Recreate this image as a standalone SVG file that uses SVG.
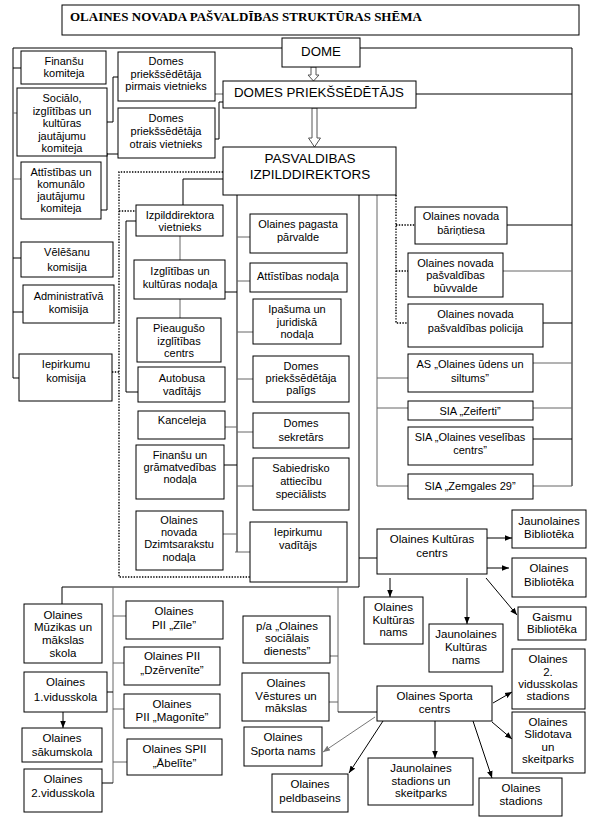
<svg xmlns="http://www.w3.org/2000/svg" width="598" height="830" viewBox="0 0 598 830">
<defs>
<style>
.b{fill:#fff;stroke:#000;stroke-width:1}
.t{font-family:"Liberation Sans",Arial,sans-serif;font-size:11px;text-anchor:middle;fill:#000}
.t2{font-family:"Liberation Sans",Arial,sans-serif;font-size:11.5px;text-anchor:middle;fill:#000}
.big{font-family:"Liberation Sans",Arial,sans-serif;font-size:13.3px;text-anchor:middle;fill:#000}
.ttl{font-family:"Liberation Serif","Times New Roman",serif;font-size:13px;font-weight:bold;fill:#000}
.c{fill:none;stroke:#000;stroke-width:1}
.g{fill:none;stroke:#666;stroke-width:1}
.d{fill:none;stroke:#000;stroke-width:1.4;stroke-dasharray:1.4,1.4}
.ha{fill:#fff;stroke:#555;stroke-width:1}
.a{fill:none;stroke:#000;stroke-width:1;marker-end:url(#ah)}
.ag{fill:none;stroke:#777;stroke-width:1;marker-end:url(#ahg)}
</style>
<marker id="ah" viewBox="0 0 10 10" refX="10" refY="5" markerWidth="7" markerHeight="7" orient="auto" markerUnits="userSpaceOnUse"><path d="M0,1 L10,5 L0,9 z" fill="#000"/></marker>
<marker id="ahg" viewBox="0 0 10 10" refX="10" refY="5" markerWidth="7" markerHeight="7" orient="auto" markerUnits="userSpaceOnUse"><path d="M0,1 L10,5 L0,9 z" fill="#777"/></marker>
</defs>
<rect x="0" y="0" width="598" height="830" fill="#fff"/>

<g id="connectors">
<path class="c" d="M13,48 H282 M360,48 H572 V486"/>
<path class="c" d="M13,48 V378 H19"/>
<path class="c" d="M13,68 H21 M13,258 H21 M13,312 H23"/>
<path class="g" d="M13,113 H17 M13,179 H21"/>
<path class="c" d="M107,122 H113 V77 H118 M107,154 H118 M94,210 H107 V153"/>
<path class="g" d="M215,94 H223"/>
<path class="c" d="M215,139 H219 V102 H223 M416,94 H572"/>
<path class="ha" d="M311,67 H316 V75 H319 L313.5,81 L308,75 H311 Z"/>
<path class="ha" d="M312,108 H317 V138 H320.5 L314.5,147 L308.5,138 H312 Z"/>
<path class="c" d="M223,179 H183 V205"/>
<path class="g" d="M180,236 V260 M180,299 V318"/>
<path class="c" d="M137,221 H126 V392 H138"/>
<path class="c" d="M237,195 V552"/>
<path class="g" d="M237,237 H250 M237,281 H250 M237,332 H253 M237,379 H253 M237,432 H253 M237,486 H253 M235,552 H250 M225,427 H237 M223,534 H237"/>
<path class="c" d="M225,292 H237 M224,465 H237"/>
<path class="c" d="M359,195 V587 H62 V604 M359,558 H377"/>
<path class="g" d="M377,195 V486 H408 M377,378 H408 M377,408 H408"/>
<path class="c" d="M507,225 H572 M543,323 H572"/>
<path class="g" d="M503,271 H572 M533,363 H572 M533,408 H572 M533,486 H572"/>
<path class="c" d="M533,439 H572"/>
<path class="d" d="M223,172 H119 V577 H250 M119,211 H136 M112,372 H119"/>
<path class="d" d="M396,195 V323 H408 M396,225 H415 M396,271 H408"/>
<path class="g" d="M113,587 V783 M113,616 H126 M113,663 H124 M113,709 H124 M113,762 H127"/>
<path class="c" d="M107,692 H113 M102,783 H113"/>
<path class="g" d="M338,587 V712 M330,656 H338 M329,702 H338"/>
<path class="c" d="M338,712 H377"/>
<path class="a" d="M63,712 V728"/>
<path class="a" d="M487,538 H512"/>
<path class="a" d="M487,568 H509"/>
<path class="a" d="M486,578 L517,615"/>
<path class="a" d="M390,578 V597"/>
<path class="a" d="M467,578 V624"/>
<path class="ag" d="M375,717 L323,752"/>
<path class="a" d="M383,721 L349,773"/>
<path class="a" d="M435,721 V758"/>
<path class="a" d="M473,721 L492,778"/>
<path class="a" d="M492,722 L512,739"/>
<path class="a" d="M493,703 L512,692"/>
</g>

<g id="title"><rect class="b" x="62" y="5" width="517" height="30"/><text class="ttl" x="70" y="21">OLAINES NOVADA PAŠVALDĪBAS STRUKTŪRAS SHĒMA</text></g>

<g id="fin"><rect class="b" x="21" y="51" width="85" height="33"/><text class="t"><tspan x="64" y="65">Finanšu</tspan><tspan x="64" y="77">komiteja</tspan></text></g>
<g id="soc"><rect class="b" x="17" y="88" width="90" height="68"/><text class="t"><tspan x="62" y="102">Sociālo,</tspan><tspan x="62" y="114.5">izglītības un</tspan><tspan x="62" y="127">kultūras</tspan><tspan x="62" y="139.5">jautājumu</tspan><tspan x="62" y="152">komiteja</tspan></text></g>
<g id="att"><rect class="b" x="21" y="162" width="80" height="57"/><text class="t"><tspan x="61" y="176">Attīstības un</tspan><tspan x="61" y="188">komunālo</tspan><tspan x="61" y="200">jautājumu</tspan><tspan x="61" y="212">komiteja</tspan></text></g>
<g id="vel"><rect class="b" x="21" y="242" width="92" height="35"/><text class="t"><tspan x="67" y="256">Vēlēšanu</tspan><tspan x="67" y="271">komisija</tspan></text></g>
<g id="adm"><rect class="b" x="23" y="285" width="91" height="38"/><text class="t"><tspan x="68.5" y="300">Administratīvā</tspan><tspan x="68.5" y="313">komisija</tspan></text></g>
<g id="iepk"><rect class="b" x="19" y="354" width="93" height="47"/><text class="t"><tspan x="66" y="368">Iepirkumu</tspan><tspan x="66" y="382">komisija</tspan></text></g>
<g id="v1"><rect class="b" x="118" y="52" width="97" height="49"/><text class="t"><tspan x="166" y="65">Domes</tspan><tspan x="166" y="77.5">priekšsēdētāja</tspan><tspan x="166" y="90">pirmais vietnieks</tspan></text></g>
<g id="v2"><rect class="b" x="118" y="108" width="97" height="50"/><text class="t"><tspan x="166" y="122">Domes</tspan><tspan x="166" y="135">priekšsēdētāja</tspan><tspan x="166" y="148">otrais vietnieks</tspan></text></g>
<g id="dome"><rect class="b" x="282" y="38" width="78" height="29"/><text class="big" x="321" y="56">DOME</text></g>
<g id="dps"><rect class="b" x="223" y="81" width="193" height="27"/><text class="big" x="319" y="97">DOMES PRIEKŠSĒDĒTĀJS</text></g>
<g id="izp"><rect class="b" x="223" y="147" width="173" height="48"/><text class="big" style="font-size:13.5px"><tspan x="310" y="163">PASVALDIBAS</tspan><tspan x="310" y="179">IZPILDDIREKTORS</tspan></text></g>

<g id="izv"><rect class="b" x="136" y="205" width="87" height="31"/><text class="t"><tspan x="180" y="219">Izpilddirektora</tspan><tspan x="180" y="231">vietnieks</tspan></text></g>
<g id="ikn"><rect class="b" x="134" y="260" width="91" height="39"/><text class="t"><tspan x="180" y="275">Izglītības un</tspan><tspan x="180" y="288">kultūras nodaļa</tspan></text></g>
<g id="pic"><rect class="b" x="137" y="318" width="84" height="44"/><text class="t"><tspan x="179" y="332">Pieaugušo</tspan><tspan x="179" y="345">izglītības</tspan><tspan x="179" y="357">centrs</tspan></text></g>
<g id="aut"><rect class="b" x="138" y="367" width="87" height="35"/><text class="t"><tspan x="182" y="382">Autobusa</tspan><tspan x="182" y="395">vadītājs</tspan></text></g>
<g id="kan"><rect class="b" x="138" y="411" width="87" height="28"/><text class="t" x="182" y="424">Kanceleja</text></g>
<g id="fgn"><rect class="b" x="136" y="445" width="88" height="54"/><text class="t"><tspan x="180" y="459">Finanšu un</tspan><tspan x="180" y="471">grāmatvedības</tspan><tspan x="180" y="483">nodaļa</tspan></text></g>
<g id="dzn"><rect class="b" x="136" y="511" width="87" height="59"/><text class="t"><tspan x="179" y="524">Olaines</tspan><tspan x="179" y="536">novada</tspan><tspan x="179" y="548">Dzimtsarakstu</tspan><tspan x="179" y="561">nodaļa</tspan></text></g>

<g id="opp"><rect class="b" x="250" y="214" width="97" height="39"/><text class="t"><tspan x="298" y="228">Olaines pagasta</tspan><tspan x="298" y="241">pārvalde</tspan></text></g>
<g id="atn"><rect class="b" x="250" y="263" width="97" height="29"/><text class="t" x="298" y="280">Attīstības nodaļa</text></g>
<g id="ipn"><rect class="b" x="253" y="299" width="88" height="45"/><text class="t"><tspan x="297" y="313">Ipašuma un</tspan><tspan x="297" y="326">juridiskā</tspan><tspan x="297" y="338">nodaļa</tspan></text></g>
<g id="dpp"><rect class="b" x="253" y="356" width="96" height="46"/><text class="t"><tspan x="301" y="370">Domes</tspan><tspan x="301" y="382">priekšsēdētāja</tspan><tspan x="301" y="394">palīgs</tspan></text></g>
<g id="dsk"><rect class="b" x="253" y="413" width="96" height="35"/><text class="t"><tspan x="301" y="427">Domes</tspan><tspan x="301" y="441">sekretārs</tspan></text></g>
<g id="sas"><rect class="b" x="253" y="458" width="96" height="52"/><text class="t"><tspan x="301" y="472">Sabiedrisko</tspan><tspan x="301" y="485">attiecību</tspan><tspan x="301" y="498">speciālists</tspan></text></g>
<g id="ipv"><rect class="b" x="250" y="522" width="97" height="60"/><text class="t"><tspan x="298" y="536">Iepirkumu</tspan><tspan x="298" y="549">vadītājs</tspan></text></g>

<g id="bar"><rect class="b" x="415" y="207" width="92" height="37"/><text class="t"><tspan x="461" y="220">Olaines novada</tspan><tspan x="461" y="234">bāriņtiesa</tspan></text></g>
<g id="buv"><rect class="b" x="408" y="253" width="95" height="44"/><text class="t"><tspan x="455.5" y="267">Olaines novada</tspan><tspan x="455.5" y="279">pašvaldības</tspan><tspan x="455.5" y="292">būvvalde</tspan></text></g>
<g id="pol"><rect class="b" x="408" y="304" width="135" height="43"/><text class="t"><tspan x="475.5" y="318">Olaines novada</tspan><tspan x="475.5" y="332">pašvaldības policija</tspan></text></g>
<g id="ous"><rect class="b" x="408" y="354" width="125" height="38"/><text class="t"><tspan x="470" y="368">AS „Olaines ūdens un</tspan><tspan x="470" y="382">siltums”</tspan></text></g>
<g id="zei"><rect class="b" x="408" y="401" width="125" height="19"/><text class="t" x="470" y="415">SIA „Zeiferti”</text></g>
<g id="ovc"><rect class="b" x="408" y="427" width="125" height="38"/><text class="t"><tspan x="470" y="441">SIA „Olaines veselības</tspan><tspan x="470" y="454">centrs”</tspan></text></g>
<g id="zem"><rect class="b" x="408" y="474" width="125" height="25"/><text class="t" x="470" y="490">SIA „Zemgales 29”</text></g>

<g id="okc"><rect class="b" x="377" y="529" width="110" height="45"/><text class="t2"><tspan x="432" y="543">Olaines Kultūras</tspan><tspan x="432" y="557">centrs</tspan></text></g>
<g id="jbib"><rect class="b" x="512" y="510" width="74" height="38"/><text class="t2"><tspan x="549" y="525">Jaunolaines</tspan><tspan x="549" y="538">Bibliotēka</tspan></text></g>
<g id="obib"><rect class="b" x="512" y="558" width="74" height="39"/><text class="t2"><tspan x="549" y="572">Olaines</tspan><tspan x="549" y="586">Bibliotēka</tspan></text></g>
<g id="gbib"><rect class="b" x="518" y="607" width="68" height="33"/><text class="t2"><tspan x="552" y="621">Gaismu</tspan><tspan x="552" y="633">Bibliotēka</tspan></text></g>
<g id="okn"><rect class="b" x="364" y="597" width="59" height="47"/><text class="t2"><tspan x="393.5" y="611">Olaines</tspan><tspan x="393.5" y="623.5">Kultūras</tspan><tspan x="393.5" y="636">nams</tspan></text></g>
<g id="jkn"><rect class="b" x="429" y="624" width="74" height="48"/><text class="t2"><tspan x="466" y="638">Jaunolaines</tspan><tspan x="466" y="651">Kultūras</tspan><tspan x="466" y="664">nams</tspan></text></g>

<g id="osc"><rect class="b" x="377" y="686" width="115" height="35"/><text class="t2"><tspan x="434.5" y="700">Olaines Sporta</tspan><tspan x="434.5" y="713">centrs</tspan></text></g>
<g id="v2s"><rect class="b" x="512" y="649" width="73" height="60"/><text class="t2"><tspan x="548" y="663">Olaines</tspan><tspan x="548" y="676">2.</tspan><tspan x="548" y="688">vidusskolas</tspan><tspan x="548" y="700">stadions</tspan></text></g>
<g id="sli"><rect class="b" x="512" y="712" width="73" height="61"/><text class="t2"><tspan x="548" y="726">Olaines</tspan><tspan x="548" y="738">Slidotava</tspan><tspan x="548" y="751">un</tspan><tspan x="548" y="763">skeitparks</tspan></text></g>
<g id="osn"><rect class="b" x="244" y="727" width="78" height="39"/><text class="t2"><tspan x="283" y="741">Olaines</tspan><tspan x="283" y="755">Sporta nams</tspan></text></g>
<g id="opb"><rect class="b" x="272" y="774" width="76" height="38"/><text class="t2"><tspan x="310" y="788">Olaines</tspan><tspan x="310" y="802">peldbaseins</tspan></text></g>
<g id="jss"><rect class="b" x="368" y="758" width="105" height="47"/><text class="t2"><tspan x="421" y="772">Jaunolaines</tspan><tspan x="421" y="785">stadions un</tspan><tspan x="421" y="797">skeitparks</tspan></text></g>
<g id="ost"><rect class="b" x="479" y="778" width="83" height="38"/><text class="t2"><tspan x="521" y="792">Olaines</tspan><tspan x="521" y="805">stadions</tspan></text></g>
<g id="psd"><rect class="b" x="243" y="616" width="87" height="47"/><text class="t2"><tspan x="287" y="630">p/a „Olaines</tspan><tspan x="287" y="642">sociālais</tspan><tspan x="287" y="655">dienests”</tspan></text></g>
<g id="ovm"><rect class="b" x="242" y="673" width="87" height="48"/><text class="t2"><tspan x="286" y="687">Olaines</tspan><tspan x="286" y="700">Vēstures un</tspan><tspan x="286" y="712">mākslas</tspan></text></g>

<g id="mmu"><rect class="b" x="24" y="604" width="78" height="59"/><text class="t2"><tspan x="63" y="619">Olaines</tspan><tspan x="63" y="631">Mūzikas un</tspan><tspan x="63" y="644">mākslas</tspan><tspan x="63" y="657">skola</tspan></text></g>
<g id="v1sk"><rect class="b" x="24" y="672" width="83" height="40"/><text class="t2"><tspan x="65.5" y="686">Olaines</tspan><tspan x="65.5" y="701">1.vidusskola</tspan></text></g>
<g id="sak"><rect class="b" x="22" y="728" width="80" height="34"/><text class="t2"><tspan x="62" y="742">Olaines</tspan><tspan x="62" y="756">sākumskola</tspan></text></g>
<g id="v2sk"><rect class="b" x="24" y="769" width="78" height="43"/><text class="t2"><tspan x="63" y="783">Olaines</tspan><tspan x="63" y="797">2.vidusskola</tspan></text></g>
<g id="zil"><rect class="b" x="126" y="601" width="97" height="38"/><text class="t2"><tspan x="174" y="615">Olaines</tspan><tspan x="174" y="629">PII „Zīle”</tspan></text></g>
<g id="dze"><rect class="b" x="124" y="647" width="96" height="38"/><text class="t2"><tspan x="172" y="660">Olaines PII</tspan><tspan x="172" y="674">„Dzērvenīte”</tspan></text></g>
<g id="mag"><rect class="b" x="124" y="694" width="96" height="34"/><text class="t2"><tspan x="172" y="708">Olaines</tspan><tspan x="172" y="721">PII „Magonīte”</tspan></text></g>
<g id="abe"><rect class="b" x="127" y="739" width="95" height="36"/><text class="t2"><tspan x="174.5" y="753">Olaines SPII</tspan><tspan x="174.5" y="767">„Ābelīte”</tspan></text></g>
</svg>
